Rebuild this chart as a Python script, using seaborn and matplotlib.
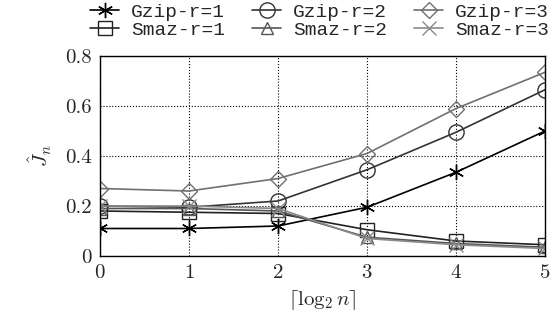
import matplotlib
matplotlib.use("Agg")
import matplotlib.pyplot as plt
import seaborn as sns
import pandas as pd

# data
x = [0, 1, 2, 3, 4, 5]
gzip_r1 = [0.11, 0.11, 0.12, 0.195, 0.335, 0.50]
gzip_r2 = [0.20, 0.195, 0.22, 0.345, 0.495, 0.665]
gzip_r3 = [0.27, 0.26, 0.31, 0.41, 0.59, 0.735]
smaz_r1 = [0.18, 0.175, 0.17, 0.105, 0.06, 0.045]
smaz_r2 = [0.19, 0.19, 0.18, 0.075, 0.05, 0.035]
smaz_r3 = [0.20, 0.20, 0.19, 0.07, 0.045, 0.03]

labels = ["Gzip-r=1", "Gzip-r=2", "Gzip-r=3", "Smaz-r=1", "Smaz-r=2", "Smaz-r=3"]
series = [gzip_r1, gzip_r2, gzip_r3, smaz_r1, smaz_r2, smaz_r3]
colors = ["#000000", "#333333", "#707070", "#222222", "#555555", "#8a8a8a"]
markers = [(6, 2, 0), "o", "D", "s", "^", "x"]
msizes = [11, 11, 8, 10, 9, 10]

sns.set_style("white")
plt.rcParams["font.family"] = "serif"
plt.rcParams["font.serif"] = ["cmr10", "DejaVu Serif"]
plt.rcParams["mathtext.fontset"] = "cm"
plt.rcParams["axes.formatter.use_mathtext"] = True

fig = plt.figure(figsize=(5.59, 3.21), dpi=100)
ax = fig.add_axes([0.179, 0.2025, 0.796, 0.623])

for lab, ys, c, m, ms in zip(labels, series, colors, markers, msizes):
    df = pd.DataFrame({"x": x, "y": ys})
    sns.lineplot(data=df, x="x", y="y", ax=ax, color=c, marker=m, markersize=ms,
                 markerfacecolor="none", markeredgecolor=c, markeredgewidth=1.0,
                 linewidth=1.2, label=lab)

ax.set_xlim(0, 5)
ax.set_ylim(0, 0.8)
ax.set_xticks(x)
ax.set_yticks([0, 0.2, 0.4, 0.6, 0.8])
ax.set_yticklabels(["0", "0.2", "0.4", "0.6", "0.8"])
ax.tick_params(labelsize=15, length=0, pad=6)
ax.grid(True, linestyle=":", color="black", linewidth=0.8)
for s in ax.spines.values():
    s.set_color("black")
    s.set_linewidth(1.0)

ax.set_xlabel(r"$\lceil \log_2 n \rceil$", fontsize=15, labelpad=4)
ax.set_ylabel(r"$\hat{J}_n$", fontsize=15, labelpad=8)

# legend filled row by row: Gzip on top, Smaz below
handles, labs = ax.get_legend_handles_labels()
order = [0, 3, 1, 4, 2, 5]
ax.get_legend().remove()
fig.legend([handles[i] for i in order], [labs[i] for i in order],
           loc="upper left", bbox_to_anchor=(90 / 559, 1 - 3 / 321), ncol=3,
           frameon=False, prop={"family": "Liberation Mono", "size": 14},
           handlelength=1.5, handletextpad=0.6, columnspacing=1.4,
           labelspacing=0.05, borderpad=0.0, borderaxespad=0.0)

fig.savefig("out.png", dpi=100)
